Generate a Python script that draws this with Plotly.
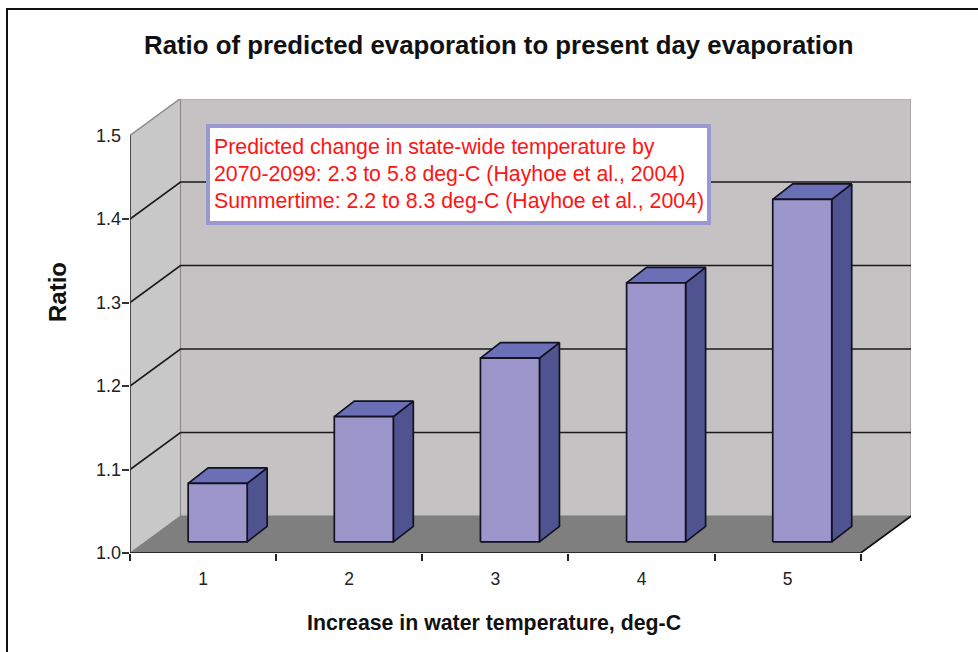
import plotly.graph_objects as go

# --- data ---
categories = [1, 2, 3, 4, 5]
ratios = [1.07, 1.15, 1.22, 1.31, 1.41]
y_ticks = [1.0, 1.1, 1.2, 1.3, 1.4, 1.5]
title = "Ratio of predicted evaporation to present day evaporation"
x_title = "Increase in water temperature, deg-C"
y_title = "Ratio"
note_lines = [
    "Predicted change in state-wide temperature by",
    "2070-2099: 2.3 to 5.8 deg-C (Hayhoe et al., 2004)",
    "Summertime: 2.2 to 8.3 deg-C (Hayhoe et al., 2004)",
]

# --- layout geometry ---
W, H = 978, 652
L, R, T, B = 130, 67, 99, 99
PW, PH = W - L - R, H - T - B
CAT_PX = 146.14
VAL_PX = 835.0   # pixels per 1.0 of ratio
xr = [0.5, 0.5 + PW / CAT_PX]
yr = [1.0, 1.0 + PH / VAL_PX]

def dx(px): return px / CAT_PX
def dy(px): return px / VAL_PX
def paper_x(px): return (px - L) / PW
def paper_y(py): return (H - B - py) / PH

WALL_X, WALL_Y = dx(50.5), dy(37)
BAR_SHIFT_X, BAR_SHIFT_Y = dx(14.6), dy(11.2)
BAR_HALF = dx(29.5)
BAR_DX, BAR_DY = dx(20), dy(15.5)
x0, x1 = 0.5, 5.5
y0, y1 = y_ticks[0], y_ticks[-1]

EDGE = "#111122"
fig = go.Figure()

def poly(xs, ys, fill, line=None, width=1.0):
    fig.add_trace(go.Scatter(
        x=xs + xs[:1], y=ys + ys[:1], mode="lines", fill="toself", fillcolor=fill,
        line=dict(color=line or fill, width=width), hoverinfo="skip", showlegend=False))

def seg(xs, ys, color, width=1.5):
    fig.add_trace(go.Scatter(x=xs, y=ys, mode="lines", line=dict(color=color, width=width),
                             hoverinfo="skip", showlegend=False))

# walls and floor
poly([x0, x0 + WALL_X, x0 + WALL_X, x0], [y0, y0 + WALL_Y, y1 + WALL_Y, y1], "#c8c8c8")
poly([x0 + WALL_X, x1 + WALL_X, x1 + WALL_X, x0 + WALL_X],
     [y0 + WALL_Y, y0 + WALL_Y, y1 + WALL_Y, y1 + WALL_Y], "#c4c2c2")
poly([x0, x1, x1 + WALL_X, x0 + WALL_X], [y0, y0, y0 + WALL_Y, y0 + WALL_Y], "#7f7f7f")

# wall edges
seg([x0, x0 + WALL_X, x1 + WALL_X, x1 + WALL_X], [y1, y1 + WALL_Y, y1 + WALL_Y, y0 + WALL_Y], "#8c8c8c", 1.5)
seg([x0 + WALL_X, x0 + WALL_X], [y0 + WALL_Y, y1 + WALL_Y], "#8c8c8c", 1.2)

# gridlines
for v in y_ticks[1:-1]:
    seg([x0, x0 + WALL_X, x1 + WALL_X], [v, v + WALL_Y, v + WALL_Y], "#1a1a1a", 1.7)

# bars
for c, v in zip(categories, ratios):
    xa = c + BAR_SHIFT_X - BAR_HALF
    xb = c + BAR_SHIFT_X + BAR_HALF
    ya = y0 + BAR_SHIFT_Y
    yb = v + BAR_SHIFT_Y
    poly([xb, xb + BAR_DX, xb + BAR_DX, xb], [ya, ya + BAR_DY, yb + BAR_DY, yb], "#4f5390", EDGE, 1.7)
    poly([xa, xb, xb + BAR_DX, xa + BAR_DX], [yb, yb, yb + BAR_DY, yb + BAR_DY], "#6b70b6", EDGE, 1.7)
    poly([xa, xb, xb, xa], [ya, ya, yb, yb], "#9c96cb", EDGE, 1.7)

# axis lines
seg([x0, x0], [y0, y1], "#333333", 1.7)
seg([x0, x1], [y0, y0], "#111111", 1.7)
seg([x1, x1 + WALL_X], [y0, y0 + WALL_Y], "#111111", 1.7)

FONT = "Liberation Sans, Arial, sans-serif"
annotations = [
    dict(text=title, x=paper_x(499), y=paper_y(45), font=dict(size=25.8, color="#111111", family=FONT)),
    dict(text=x_title, x=paper_x(494), y=paper_y(623), font=dict(size=21.3, color="#111111", family=FONT)),
    dict(text=y_title, x=paper_x(57), y=paper_y(292), textangle=-90, font=dict(size=24, color="#111111", family=FONT)),
]
for a in annotations:
    a["text"] = "<b>" + a["text"] + "</b>"
    a.update(xref="paper", yref="paper", xanchor="center", yanchor="middle", showarrow=False)
for line, py in zip(note_lines, [147, 174, 201]):
    annotations.append(dict(text=line, x=paper_x(212), y=paper_y(py), xref="paper", yref="paper",
                            xanchor="left", yanchor="middle", showarrow=False,
                            font=dict(size=21.3, color="#ff1414", family=FONT)))

shapes = [
    dict(type="rect", xref="paper", yref="paper", x0=paper_x(208), x1=paper_x(709),
         y0=paper_y(126), y1=paper_y(223), fillcolor="white",
         line=dict(color="#9a98cf", width=4), layer="above"),
    dict(type="path", xref="paper", yref="paper",
         path=f"M {paper_x(7)} {paper_y(652)} L {paper_x(7)} {paper_y(9)} L {paper_x(978)} {paper_y(9)}",
         line=dict(color="#111111", width=2), layer="above"),
]

fig.update_layout(
    width=W, height=H, autosize=False,
    margin=dict(l=L, r=R, t=T, b=B, pad=0),
    paper_bgcolor="white", plot_bgcolor="rgba(0,0,0,0)",
    showlegend=False, annotations=annotations, shapes=shapes,
    font=dict(family=FONT, color="#222222"),
    xaxis=dict(range=xr, tickmode="array", tickvals=categories, ticks="", showgrid=False,
               zeroline=False, showline=False, tickfont=dict(size=17.5), ticklabelstandoff=13,
               minor=dict(tickmode="array", tickvals=[x0 + i for i in range(6)], ticks="outside",
                          ticklen=7, tickwidth=1.5, tickcolor="#222222", showgrid=False)),
    yaxis=dict(range=yr, tickmode="array", tickvals=y_ticks, ticktext=[f"{v:.1f}" for v in y_ticks],
               ticks="", ticklabelstandoff=8, showgrid=False,
               zeroline=False, showline=False, tickfont=dict(size=18),
               minor=dict(tickmode="array", tickvals=y_ticks[:-1], ticks="outside",
                          ticklen=7, tickwidth=1.5, tickcolor="#333333", showgrid=False)),
)

fig.write_html("out.html", post_script="document.body.style.margin='0';",
               config={"displayModeBar": False})
